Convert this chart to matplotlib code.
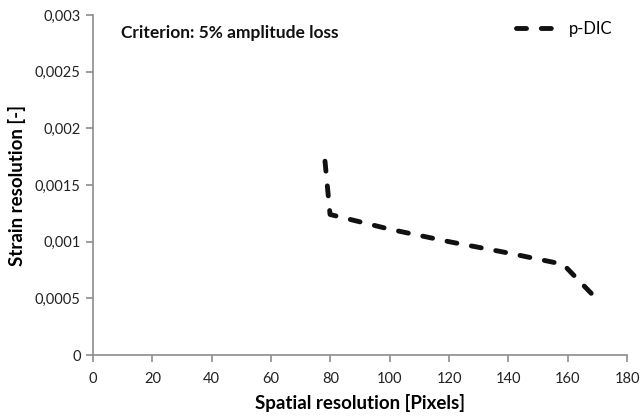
import matplotlib
matplotlib.use("Agg")
import matplotlib.pyplot as plt
from matplotlib.ticker import FuncFormatter

x_pixels = [78.2, 79.9, 100, 120, 140, 158.5, 169.2]
strain = [0.00171, 0.00124, 0.00111, 0.00100, 0.00090, 0.00080, 0.00051]
series_label = "p-DIC"
x_ticks = [0, 20, 40, 60, 80, 100, 120, 140, 160, 180]
y_ticks = [0, 0.0005, 0.001, 0.0015, 0.002, 0.0025, 0.003]

plt.rcParams['font.family'] = ['Lato', 'DejaVu Sans']

fig = plt.figure(figsize=(6.43, 4.19), dpi=100)
ax = fig.add_axes([93/643, 1-355/419, (627-93)/643, (355-15)/419])

lw = 3.5
ax.plot(x_pixels, strain, color='#111111', lw=lw, linestyle=(0, (2.06, 3.04)),
        dash_capstyle='round', solid_capstyle='round', label=series_label)

ax.set_xlim(0, 180)
ax.set_ylim(0, 0.003)
ax.set_xticks(x_ticks)
ax.set_yticks(y_ticks)

def yfmt(v, pos):
    if v == 0:
        return "0"
    s = ("%.4f" % v).rstrip('0')
    return s.replace('.', ',')

ax.yaxis.set_major_formatter(FuncFormatter(yfmt))

gray = '#8c8c8c'
for s in ['top', 'right']:
    ax.spines[s].set_visible(False)
for s in ['left', 'bottom']:
    ax.spines[s].set_color(gray)
    ax.spines[s].set_linewidth(1.2)
ax.tick_params(axis='both', colors=gray, length=5, width=1.2, direction='out',
               labelsize=10.5, labelcolor='#222222', pad=4)
ax.tick_params(axis='x', pad=7)

ax.set_xlabel("Spatial resolution [Pixels]", fontsize=13.5, fontweight='bold', labelpad=6)
ax.set_ylabel("Strain resolution [-]", fontsize=13.5, fontweight='bold', labelpad=6)

ax.text(121/643, 1-33/419, "Criterion: 5% amplitude loss", transform=fig.transFigure,
        fontsize=12.5, fontweight='bold', va='center', ha='left', color='#111111')

leg = ax.legend(loc='center left', bbox_to_anchor=(516/643, 1-29/419),
                bbox_transform=fig.transFigure, frameon=False, fontsize=12,
                handlelength=2.6, handletextpad=0.55, borderpad=0, borderaxespad=0)

fig.savefig("out.png", dpi=100)
